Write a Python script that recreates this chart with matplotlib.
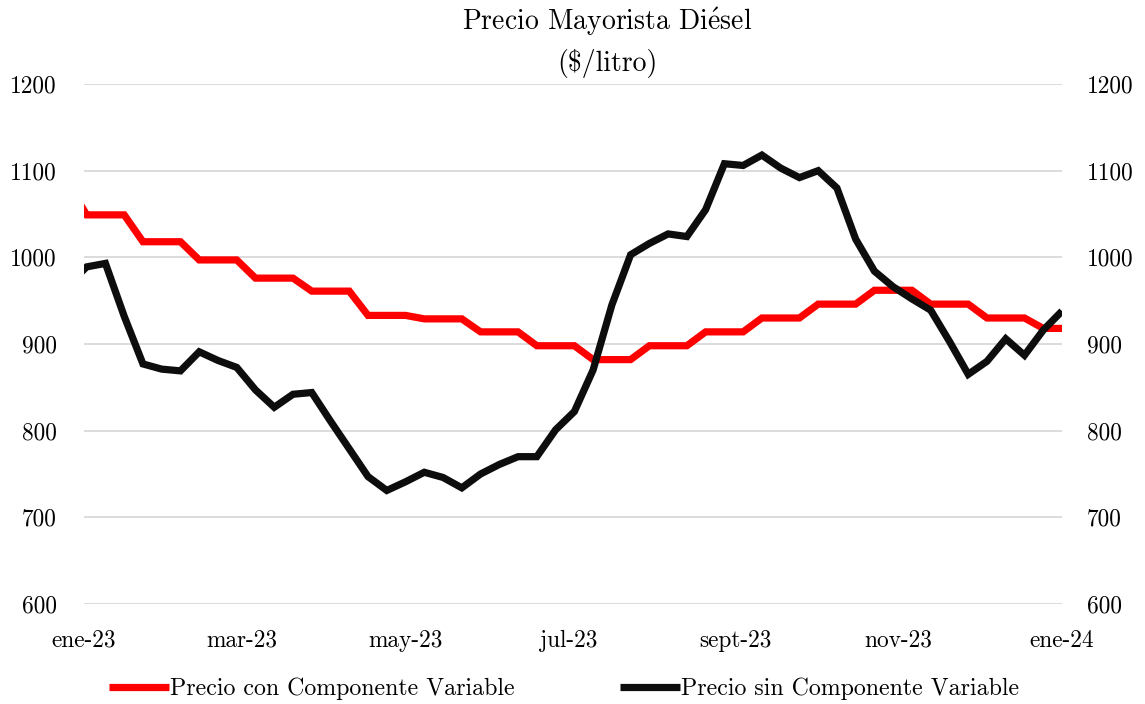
import matplotlib
matplotlib.use("Agg")
import matplotlib.pyplot as plt
import matplotlib.dates as mdates
import numpy as np
import pandas as pd

# Weekly dates (first point lies just before the axis start and is clipped)
dates = pd.to_datetime(["2022-12-26"]).append(pd.date_range("2023-01-02", periods=53, freq="7D"))

precio_con = [1085,
    1049, 1049, 1049, 1018, 1018, 1018, 997, 997, 997, 976,
    976, 976, 961, 961, 961, 933, 933, 933, 929, 929,
    929, 914, 914, 914, 898, 898, 898, 882, 882, 882,
    898, 898, 898, 914, 914, 914, 930, 930, 930, 946,
    946, 946, 962, 962, 962, 946, 946, 946, 930, 930,
    930, 918, 918]

precio_sin = [968,
    989, 993, 932, 877, 871, 869, 891, 881, 873, 847,
    827, 842, 844, 811, 779, 747, 731, 741, 752, 746,
    734, 750, 761, 770, 770, 801, 822, 870, 945, 1003,
    1016, 1027, 1024, 1055, 1108, 1106, 1118, 1103, 1092, 1100,
    1080, 1021, 984, 966, 952, 939, 903, 865, 880, 906,
    887, 916, 938]

tick_dates = pd.to_datetime(["2023-01-01", "2023-03-01", "2023-05-01", "2023-07-01",
                             "2023-09-01", "2023-11-01", "2024-01-01"])
tick_labels = ["ene-23", "mar-23", "may-23", "jul-23", "sept-23", "nov-23", "ene-24"]
y_ticks = [600, 700, 800, 900, 1000, 1100, 1200]

plt.rcParams['font.family'] = ['cmr10', 'DejaVu Serif']
plt.rcParams['axes.formatter.use_mathtext'] = True
plt.rcParams['mathtext.fontset'] = 'cm'

fig = plt.figure(figsize=(11.45, 7.04), dpi=100)
ax = fig.add_axes([84/1145, 1-604/704, (1062-84)/1145, 520/704])

l1, = ax.plot(dates, precio_con, color="#ff0000", lw=5.2, solid_joinstyle="miter",
              solid_capstyle="butt", label="Precio con Componente Variable", zorder=3)
l2, = ax.plot(dates, precio_sin, color="#0d0d0d", lw=5.2, solid_joinstyle="miter",
              solid_capstyle="butt", label="Precio sin Componente Variable", zorder=4)

ax.set_xlim(tick_dates[0], tick_dates[-1])
ax.set_ylim(600, 1200)
ax.set_yticks(y_ticks)
ax.set_yticklabels([str(v) for v in y_ticks])
ax.set_xticks(tick_dates)
ax.set_xticklabels(tick_labels)
ax.grid(axis="y", color="#d9d9d9", lw=1.3)
ax.set_axisbelow(True)
for s in ax.spines.values():
    s.set_visible(False)
ax.tick_params(axis="both", length=0, labelsize=16.8, colors="#000000")
ax.tick_params(axis="x", pad=18.5)
ax.tick_params(axis="y", pad=19.5)

ax2 = ax.twinx()
ax2.set_ylim(600, 1200)
ax2.set_yticks(y_ticks)
ax2.set_yticklabels([str(v) for v in y_ticks])
for s in ax2.spines.values():
    s.set_visible(False)
ax2.tick_params(axis="y", length=0, labelsize=16.8, pad=18)

fig.text(607/1145, 1-22/704, r"Precio Mayorista Di$\acute{\mathrm{e}}$sel", ha="center",
         va="center", fontsize=20)
fig.text(607/1145, 1-63/704, r"(\$/litro)", ha="center", va="center", fontsize=20)

fig.legend(handles=[l1, l2], loc="center", bbox_to_anchor=(564/1145, 1-689/704), ncol=2,
           frameon=False, fontsize=17.2, handlelength=2.5, handletextpad=0.05,
           columnspacing=4.4)

fig.savefig("out.png", dpi=100)
